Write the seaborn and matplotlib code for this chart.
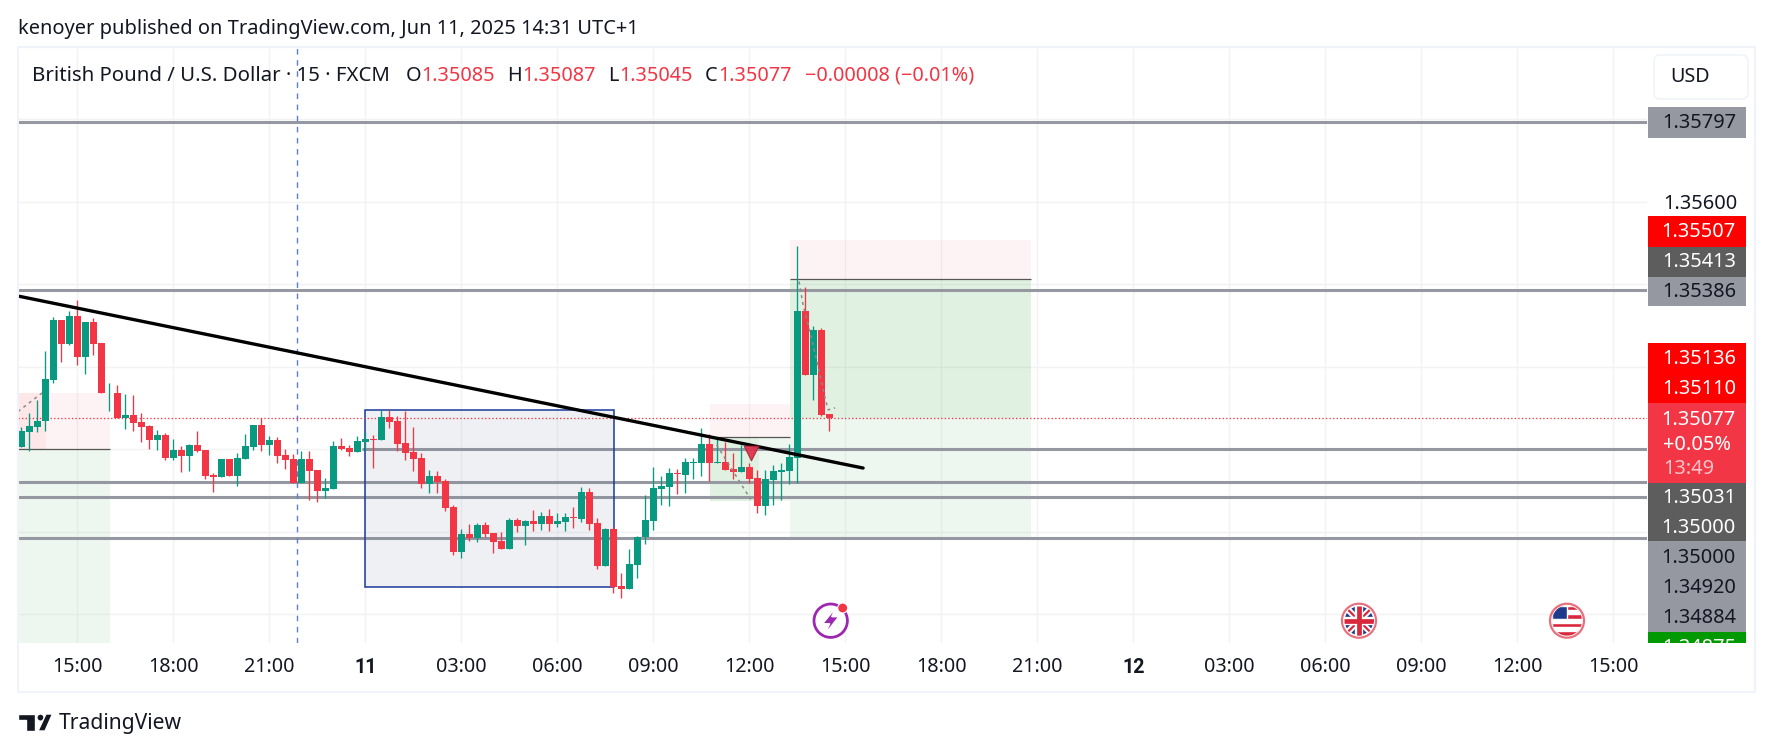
import numpy as np
import matplotlib
matplotlib.use("Agg")
import matplotlib.pyplot as plt
from matplotlib.patches import Rectangle, Circle, Polygon, FancyBboxPatch
import seaborn as sns

# ---- data (prices in 1/100000) ----
opens = [135005,135043,135055,135068,135169,135314,135256,135324,135225,135309,
         135258,135136,135137,135077,135084,135067,135057,135023,135035,134980,
         134999,134984,135011,134999,134938,134933,134977,134936,134977,135006,
         135059,135011,135023,134987,134977,134919,134977,134950,134899,134904,
         135008,135004,134994,135018,135025,135023,135079,135069,135016,134994,
         134979,134916,134936,134923,134861,134752,134795,134785,134817,134798,
         134778,134759,134829,134815,134827,134819,134839,134819,134824,134836,
         134832,134897,134822,134718,134807,134669,134662,134720,134788,134826,
         134904,134909,134943,134938,134967,134967,135013,134967,134969,134952,
         134945,134957,134930,134863,134926,134945,134947,134979,135336,135181,
         135290,135085]
closes = [135045,135057,135069,135171,135314,135256,135324,135225,135309,135256,
          135136,135137,135077,135084,135064,135055,135023,135035,134980,134999,
          134984,135011,134996,134936,134933,134977,134936,134979,135008,135059,
          135011,135023,134984,134975,134919,134977,134948,134899,134907,135008,
          135001,134994,135021,135025,135023,135079,135066,135013,134991,134977,
          134916,134936,134921,134858,134752,134795,134785,134817,134795,134776,
          134759,134829,134815,134827,134819,134839,134819,134827,134836,134834,
          134897,134819,134718,134807,134667,134662,134722,134788,134829,134906,
          134911,134943,134941,134969,134969,135013,134967,134969,134950,134945,
          134957,134928,134863,134928,134947,134950,134981,135336,135181,135290,
          135084,135077]
highs = [135054,135089,135120,135239,135321,135314,135336,135363,135309,135319,
         135258,135161,135157,135135,135132,135089,135060,135047,135040,135026,
         135008,135013,135045,134999,134943,134977,134977,134992,135038,135059,
         135076,135033,135030,135001,134989,134996,134996,134950,134931,135021,
         135028,135011,135033,135042,135035,135095,135096,135081,135093,135054,
         134991,134950,134948,134928,134865,134807,134819,134822,134824,134798,
         134800,134834,134834,134829,134853,134848,134856,134846,134846,134861,
         134909,134907,134834,134810,134812,134701,134759,134790,134890,134957,
         134935,134955,134952,134979,134979,135052,135037,135027,135018,134991,
         135010,134967,134950,134950,134962,134967,135013,135493,135394,135299,
         135294,135087]
lows = [135005,134997,135043,135046,135162,135213,135253,135205,135183,135229,
        135136,135093,135077,135050,135045,135018,135001,134999,134975,134975,
        134945,134948,134994,134929,134897,134933,134936,134912,134977,134999,
        134996,134987,134967,134953,134919,134919,134878,134873,134882,134904,
        134999,134984,134994,134999,134955,135023,135052,134996,134974,134948,
        134906,134894,134894,134851,134744,134737,134778,134776,134788,134749,
        134759,134759,134800,134768,134802,134805,134802,134812,134802,134810,
        134824,134805,134710,134718,134652,134640,134662,134688,134770,134804,
        134865,134863,134892,134894,134928,134935,134923,134967,134950,134928,
        134945,134918,134846,134841,134865,134877,134916,134919,135181,135120,
        135081,135045]

time_labels = ["15:00","18:00","21:00","11","03:00","06:00","09:00","12:00","15:00",
               "18:00","21:00","12","03:00","06:00","09:00","12:00","15:00"]
price_grid = [1.346,1.348,1.350,1.352,1.354,1.356,1.358]
level_full = [1.35795,1.35386,1.34920,1.34884,1.34785]
level_from_box = 1.35000
last_price = 1.35077
trend_k = [-7.44, 98.2]
trend_p = [1.35372, 1.34955]
ghost_a_k, ghost_a_p = [-7.44,-4.44], [1.35092,1.35137]
ghost_b_k, ghost_b_p = [79.9,84.15], [1.35011,1.34879]
ghost_c_k = [90.2,90.7,91.6,92.6,93.5,93.85,94.7]
ghost_c_p = [1.35407,1.35350,1.35282,1.35200,1.35120,1.35096,1.35101]
box_k, box_p = [36,67.1], [1.34666,1.35095]
vline_k = 27.5
marker_k, marker_p = 84.15, 1.34991
PINK=(242/255,54/255,69/255); GREEN=(76/255,175/255,80/255)
zones = [(-7.44,4.06,1.35000,1.35136,PINK,.055),(-7.44,-3.9,1.35000,1.35136,PINK,.06),
         (-7.44,4.06,1.34530,1.35000,GREEN,.09),
         (89.06,119.25,1.35413,1.35507,PINK,.055),(89.06,119.25,1.35077,1.35413,GREEN,.17),
         (89.06,119.25,1.34788,1.35077,GREEN,.09),
         (79.06,89.06,1.35031,1.35110,PINK,.055),(79.06,85.2,1.34875,1.35031,GREEN,.17),
         (85.2,89.06,1.34875,1.35031,GREEN,.09)]
entry_lines = [(-7.44,4.06,1.35000),(89.06,119.25,1.35413),(79.06,89.06,1.35031)]

W,H = 1773,753
L,R,T,B = 18,1647,47,642.7
UP,DOWN = "#089981","#F23645"
INK = "#131722"
GREY = "#9598A1"

sns.set_theme(style="white")
plt.rcParams["font.family"] = ["Noto Sans","DejaVu Sans"]

fig = plt.figure(figsize=(W/100,H/100),dpi=100,facecolor="white")
ax = fig.add_axes([L/W,1-B/H,(R-L)/W,(B-T)/H])
ax.set_axisbelow(True)

k = np.arange(-7,95)
o,c,h,l = [np.array(a)/1e5 for a in (opens,closes,highs,lows)]
up = c>=o
x_left,x_right = -7.4375,196.19

for k0,k1,p0,p1,col,a in zones:
    ax.add_patch(Rectangle((k0,p0),k1-k0,p1-p0,facecolor=col,alpha=a,edgecolor="none",zorder=1))
for k0,k1,p in entry_lines:
    ax.plot([k0,k1],[p,p],color="#555555",lw=0.9,zorder=1.5,solid_capstyle="butt")

for p in level_full:
    sns.lineplot(x=[x_left,x_right],y=[p,p],color=GREY,linewidth=2.2,ax=ax,zorder=2,legend=False)
sns.lineplot(x=[box_k[0]-0.3,x_right],y=[level_from_box]*2,color=GREY,linewidth=2.2,ax=ax,zorder=2,legend=False)

ax.add_patch(Rectangle((box_k[0],box_p[0]),box_k[1]-box_k[0],box_p[1]-box_p[0],
                       facecolor=(105/255,115/255,145/255,.10),edgecolor="#1A3A9A",lw=1.1,zorder=2.5))
ax.axvline(vline_k,color="#5B7FD6",lw=1.0,ls=(0,(4,4)),zorder=2.6)
ax.axhline(last_price,color=DOWN,lw=0.95,ls=(0,(1,1.7)),zorder=2.7)

ax.vlines(k[up],l[up],h[up],color=UP,lw=0.95,zorder=3)
ax.vlines(k[~up],l[~up],h[~up],color=DOWN,lw=0.95,zorder=3)
ax.bar(k[up],(c-o)[up],bottom=o[up],width=0.875,color=UP,linewidth=0,zorder=3.1)
ax.bar(k[~up],(o-c)[~up],bottom=c[~up],width=0.875,color=DOWN,linewidth=0,zorder=3.1)

for gx,gy in ((ghost_a_k,ghost_a_p),(ghost_b_k,ghost_b_p),(ghost_c_k,ghost_c_p)):
    sns.lineplot(x=gx,y=gy,sort=False,color="#8A8A8A",linewidth=1.1,linestyle=(0,(2,2.5)),
                 ax=ax,zorder=3.5,legend=False)

sns.lineplot(x=trend_k,y=trend_p,color="black",linewidth=2.4,ax=ax,zorder=4,legend=False)
sns.scatterplot(x=[marker_k],y=[marker_p],marker="v",s=110,color="#E0304A",edgecolor="#A82638",
                linewidth=0.8,alpha=.92,ax=ax,zorder=5,legend=False)

ax.set_xlim(x_left,x_right)
ax.set_ylim(1.345316,1.359757)
ax.set_xlabel("");ax.set_ylabel("")
for s in ax.spines.values():
    s.set_visible(False)

xt = np.arange(len(time_labels))*12
ax.set_xticks(xt)
ax.set_xticklabels(time_labels)
ax.set_yticks(price_grid)
ax.set_yticklabels(["1.35600" if abs(p-1.356)<1e-9 else "" for p in price_grid])
ax.yaxis.tick_right()
ax.grid(True,color="#F1F2F4",lw=1.0)
ax.tick_params(axis="x",length=0,pad=17.5,labelsize=14.2,labelcolor=INK)
ax.tick_params(axis="y",length=0,pad=11.5,labelsize=14.4,labelcolor=INK)
for t in ax.get_xticklabels():
    t.set_va("center")
    if t.get_text() in ("11","12"):
        t.set_fontfamily("Roboto")
        t.set_fontweight("bold")
ax.patch.set_alpha(0)

# ---- page furniture in pixel coordinates ----
ov = fig.add_axes([0,0,1,1],zorder=10)
ov.set_xlim(0,W);ov.set_ylim(H,0);ov.axis("off");ov.patch.set_alpha(0)

ov.add_patch(Rectangle((18,47),1737,645,fill=False,edgecolor="#F0F3FA",lw=1.5))

ov.text(18,28.5,"kenoyer published on TradingView.com, Jun 11, 2025 14:31 UTC+1",fontsize=14.4,color=INK,va="center")
ov.text(32,75.5,"British Pound / U.S. Dollar · 15 · FXCM",fontsize=14.7,color=INK,va="center")
for x,s,col in ((406,"O",INK),(421,"1.35085",DOWN),(507,"H",INK),(522,"1.35087",DOWN),
                (608,"L",INK),(619,"1.35045",DOWN),(705,"C",INK),(718,"1.35077",DOWN),
                (805,"−0.00008 (−0.01%)",DOWN)):
    ov.text(x,75.5,s,fontsize=14.3,color=col,va="center")

ov.add_patch(FancyBboxPatch((1658,59),86,36,boxstyle="round,pad=4,rounding_size=6",
                            facecolor="white",edgecolor="#F0F3FA",lw=1.2))
ov.text(1670,77,"USD",fontsize=14.2,color=INK,va="center")

TAG_L,TAG_R,TXT = 1648,1746,1736
tags = [(107,137.7,GREY,INK,"1.35797",123),(216,246.7,"#FF0000","white","1.35507",232),
        (246.7,277,"#5D5D5D","white","1.35413",262.3),(277,305.7,GREY,INK,"1.35386",292),
        (343,373.3,"#FF0000","white","1.35136",359),(373.3,403,"#FF0000","white","1.35110",389),
        (483,513,"#5D5D5D","white","1.35031",498),(513,541,"#5D5D5D","white","1.35000",528),
        (541,572,GREY,INK,"1.35000",558),(572,602,GREY,INK,"1.34920",588),
        (602,632,GREY,INK,"1.34884",618)]
for y0,y1,bg,fg,s,ty in tags:
    ov.add_patch(Rectangle((TAG_L,y0),TAG_R-TAG_L,y1-y0,facecolor=bg,edgecolor="none"))
    ov.text(TXT,ty,s,fontsize=14.4,color=fg,ha="right",va="center")
ov.add_patch(Rectangle((TAG_L,403),TAG_R-TAG_L,80,facecolor=DOWN,edgecolor="none"))
ov.text(TXT,419.5,"1.35077",fontsize=14.4,color="white",ha="right",va="center")
ov.text(1663,445,"+0.05%",fontsize=14.4,color="white",ha="left",va="center")
ov.text(1663,468.5,"13:49",fontsize=14.4,color="#FBC5CA",ha="left",va="center")
gr = Rectangle((TAG_L,632),TAG_R-TAG_L,10.7,facecolor="#009A00",edgecolor="none")
ov.add_patch(gr)
tx = ov.text(TXT,648,"1.34875",fontsize=14.4,color="white",ha="right",va="center")
tx.set_clip_path(gr)

# logo
ov.add_patch(Polygon([(18,714),(35,714),(35,731),(26,731),(26,720),(18,720)],facecolor=INK))
ov.add_patch(Circle((40.5,717.6),3.6,facecolor=INK))
ov.add_patch(Polygon([(46,714),(52.5,714),(45,731),(38,731)],facecolor=INK))
ov.text(58.5,723.5,"TradingView",fontsize=15.2,color=INK,va="center")

# event icons
cx,cy,r = 830.7,620.7,18
ov.add_patch(Circle((cx,cy),r-1.3,facecolor="white",edgecolor="#9C27B0",lw=2))
ov.add_patch(Polygon([(cx+5,cy-13),(cx-8,cy+3),(cx-1,cy+3),(cx-6,cy+14),(cx+8,cy-4),(cx+1,cy-4)],facecolor="#9C27B0"))
ov.add_patch(Circle((cx+12,cy-12.7),5,facecolor=DOWN,edgecolor="white",lw=0.8))

cx,cy = 1359,620.7
clip = Circle((cx,cy),r-3,transform=ov.transData)
ov.add_patch(Circle((cx,cy),r-1,facecolor="white",edgecolor="#E8707C",lw=1.6))
ov.add_patch(Circle((cx,cy),r-3,facecolor="#1F3C8C"))
for pts,col,lw in (([(cx-15,cy-15),(cx+15,cy+15)],"white",4.5),([(cx-15,cy+15),(cx+15,cy-15)],"white",4.5),
                   ([(cx-15,cy-15),(cx+15,cy+15)],"#D9283C",1.6),([(cx-15,cy+15),(cx+15,cy-15)],"#D9283C",1.6),
                   ([(cx-15,cy),(cx+15,cy)],"white",6),([(cx,cy-15),(cx,cy+15)],"white",6),
                   ([(cx-15,cy),(cx+15,cy)],"#D9283C",3.4),([(cx,cy-15),(cx,cy+15)],"#D9283C",3.4)):
    ln, = ov.plot(*zip(*pts),color=col,lw=lw,solid_capstyle="butt")
    ln.set_clip_path(clip)

cx,cy = 1567,620.7
clip2 = Circle((cx,cy),r-3,transform=ov.transData)
ov.add_patch(Circle((cx,cy),r-1,facecolor="white",edgecolor="#E8707C",lw=1.6))
for i in range(7):
    if i%2==0:
        pt = ov.add_patch(Rectangle((cx-15,cy-15+i*30/7),30,30/7,facecolor="#D9283C"))
        pt.set_clip_path(clip2)
pt = ov.add_patch(Rectangle((cx-15,cy-15),15,13,facecolor="#1F3C8C"))
pt.set_clip_path(clip2)

fig.savefig("out.png",dpi=100,facecolor="white")
